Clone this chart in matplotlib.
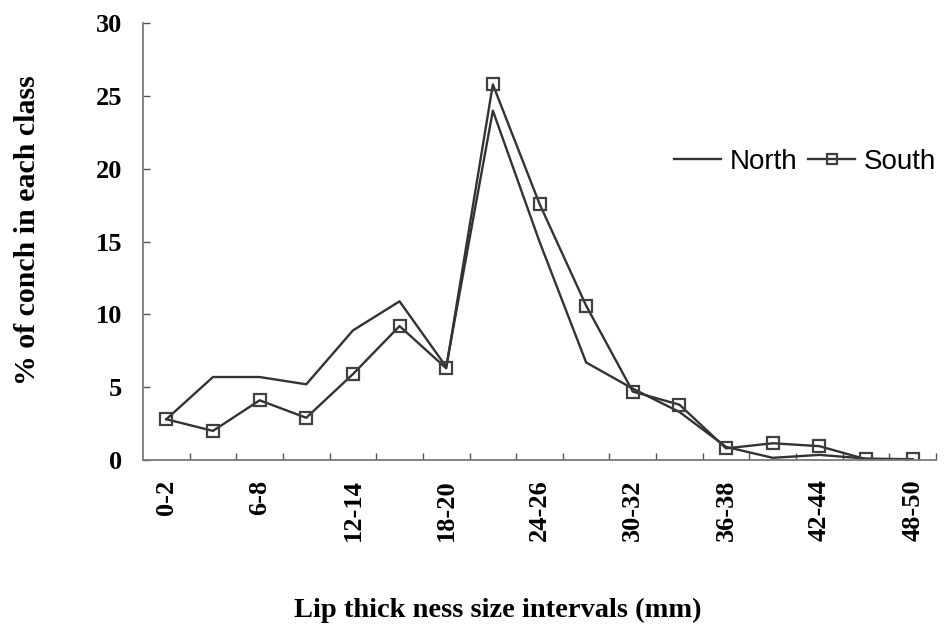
import numpy as np
import matplotlib.pyplot as plt
from matplotlib.ticker import FixedLocator

# size classes (mm), 3 mm wide
classes = ['0-2', '3-5', '6-8', '9-11', '12-14', '15-17', '18-20', '21-23',
           '24-26', '27-29', '30-32', '33-35', '36-38', '39-41', '42-44',
           '45-47', '48-50']

north = [2.8, 5.7, 5.7, 5.2, 8.9, 10.9, 6.4, 24.0, 15.0, 6.7, 4.9, 3.3,
         0.9, 0.15, 0.35, 0.1, 0.05]
south = [2.8, 2.0, 4.1, 2.9, 5.9, 9.2, 6.3, 25.8, 17.6, 10.6, 4.7, 3.8,
         0.8, 1.15, 0.95, 0.05, 0.05]

yticks = [0, 5, 10, 15, 20, 25, 30]

serif = ['Liberation Serif', 'DejaVu Serif']
sans = ['Liberation Sans', 'DejaVu Sans']

fig = plt.figure(figsize=(9.45, 6.28), dpi=100)
ax = fig.add_axes([143 / 945, 1 - 460 / 628, (936 - 143) / 945, (460 - 23.3) / 628])

x = np.arange(len(classes))
ax.plot(x, north, color='#333333', lw=1.7, label='North')
ax.plot(x, south, color='#333333', lw=1.7, marker='s', ms=8.5,
        mfc='none', mec='#404040', mew=1.6, label='South')

ax.set_xlim(-0.5, len(classes) - 0.5)
ax.set_ylim(0, 30)

ax.spines['top'].set_visible(False)
ax.spines['right'].set_visible(False)
for s in ['left', 'bottom']:
    ax.spines[s].set_color('#7a7a7a')
    ax.spines[s].set_linewidth(1.3)

ax.set_yticks(yticks)
ax.set_yticklabels([str(v) for v in yticks], fontfamily=serif,
                   fontweight='bold', fontsize=19)
ax.tick_params(axis='y', direction='in', length=5, width=1, color='#555555', pad=15)

ax.set_xticks(x[::2])
ax.set_xticklabels(classes[::2], rotation=90, fontfamily=serif,
                   fontweight='bold', fontsize=19, va='top')
ax.tick_params(axis='x', which='major', length=0, pad=14)
ax.xaxis.set_minor_locator(FixedLocator(np.arange(0.5, len(classes), 1.0)))
ax.tick_params(axis='x', which='minor', direction='in', length=5, width=1,
               color='#555555')

fig.text(498 / 945, 1 - 610 / 628, 'Lip thick ness size intervals (mm)',
         ha='center', va='center', fontfamily=serif, fontweight='bold', fontsize=20.5)
fig.text(28 / 945, 1 - 230 / 628, '% of conch in each class', rotation=90,
         ha='center', va='center', fontfamily=serif, fontweight='bold', fontsize=21.5)

ax.legend(loc='center', bbox_to_anchor=(805 / 945, 1 - 162 / 628),
          bbox_transform=fig.transFigure, ncol=2, frameon=False,
          prop={'family': sans, 'size': 20}, handlelength=1.7,
          handletextpad=0.3, columnspacing=0.4, borderpad=0, markerscale=0.8)

fig.savefig('out.png', dpi=100)
